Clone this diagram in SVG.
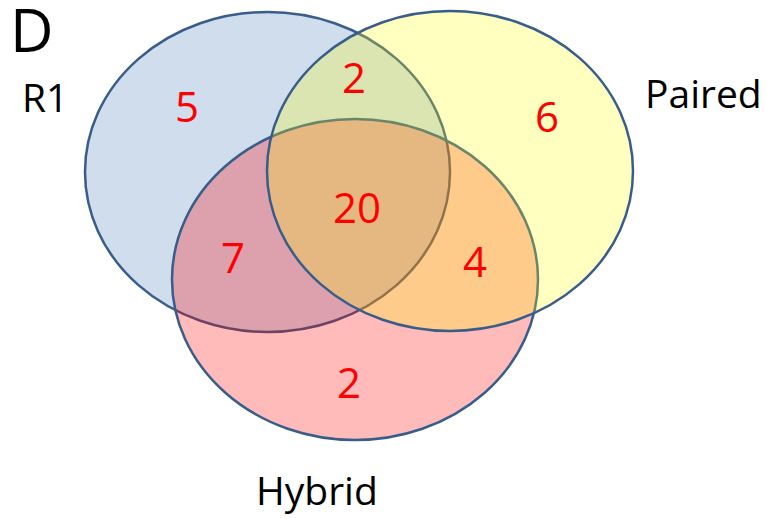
<svg xmlns="http://www.w3.org/2000/svg" width="767" height="519" viewBox="0 0 767 519">
<style>
.set{stroke:#385D8A;stroke-width:2.5}
.lbl{font-family:"Open Sans","Liberation Sans",sans-serif;font-size:39px;fill:#000}
.num{font-family:"Open Sans","Liberation Sans",sans-serif;font-size:42px;fill:#FF0000;text-anchor:middle}
</style>
<rect width="767" height="519" fill="#FFFFFF"/>
<g id="R1">
<ellipse class="set" cx="267.5" cy="172" rx="182.5" ry="160" fill="rgba(79,129,189,0.27)"/>
</g>
<g id="Hybrid">
<ellipse class="set" cx="355" cy="279.5" rx="183" ry="160.5" fill="rgba(255,0,0,0.27)"/>
</g>
<g id="Paired">
<ellipse class="set" cx="450" cy="171" rx="183" ry="160" fill="rgba(255,255,0,0.25)"/>
</g>
<g id="labels">
<text x="10" y="52" style="font-family:'Open Sans','Liberation Sans',sans-serif;font-size:60px">D</text>
<text class="lbl" x="22" y="112">R1</text>
<text class="lbl" x="645" y="108">Paired</text>
<text class="lbl" x="256" y="505">Hybrid</text>
</g>
<g id="counts">
<text class="num" x="187" y="122">5</text>
<text class="num" x="354" y="93">2</text>
<text class="num" x="547" y="132">6</text>
<text class="num" x="357" y="223">20</text>
<text class="num" x="233" y="273">7</text>
<text class="num" x="475" y="277">4</text>
<text class="num" x="349" y="398">2</text>
</g>
<g id="connectors"/>
</svg>
